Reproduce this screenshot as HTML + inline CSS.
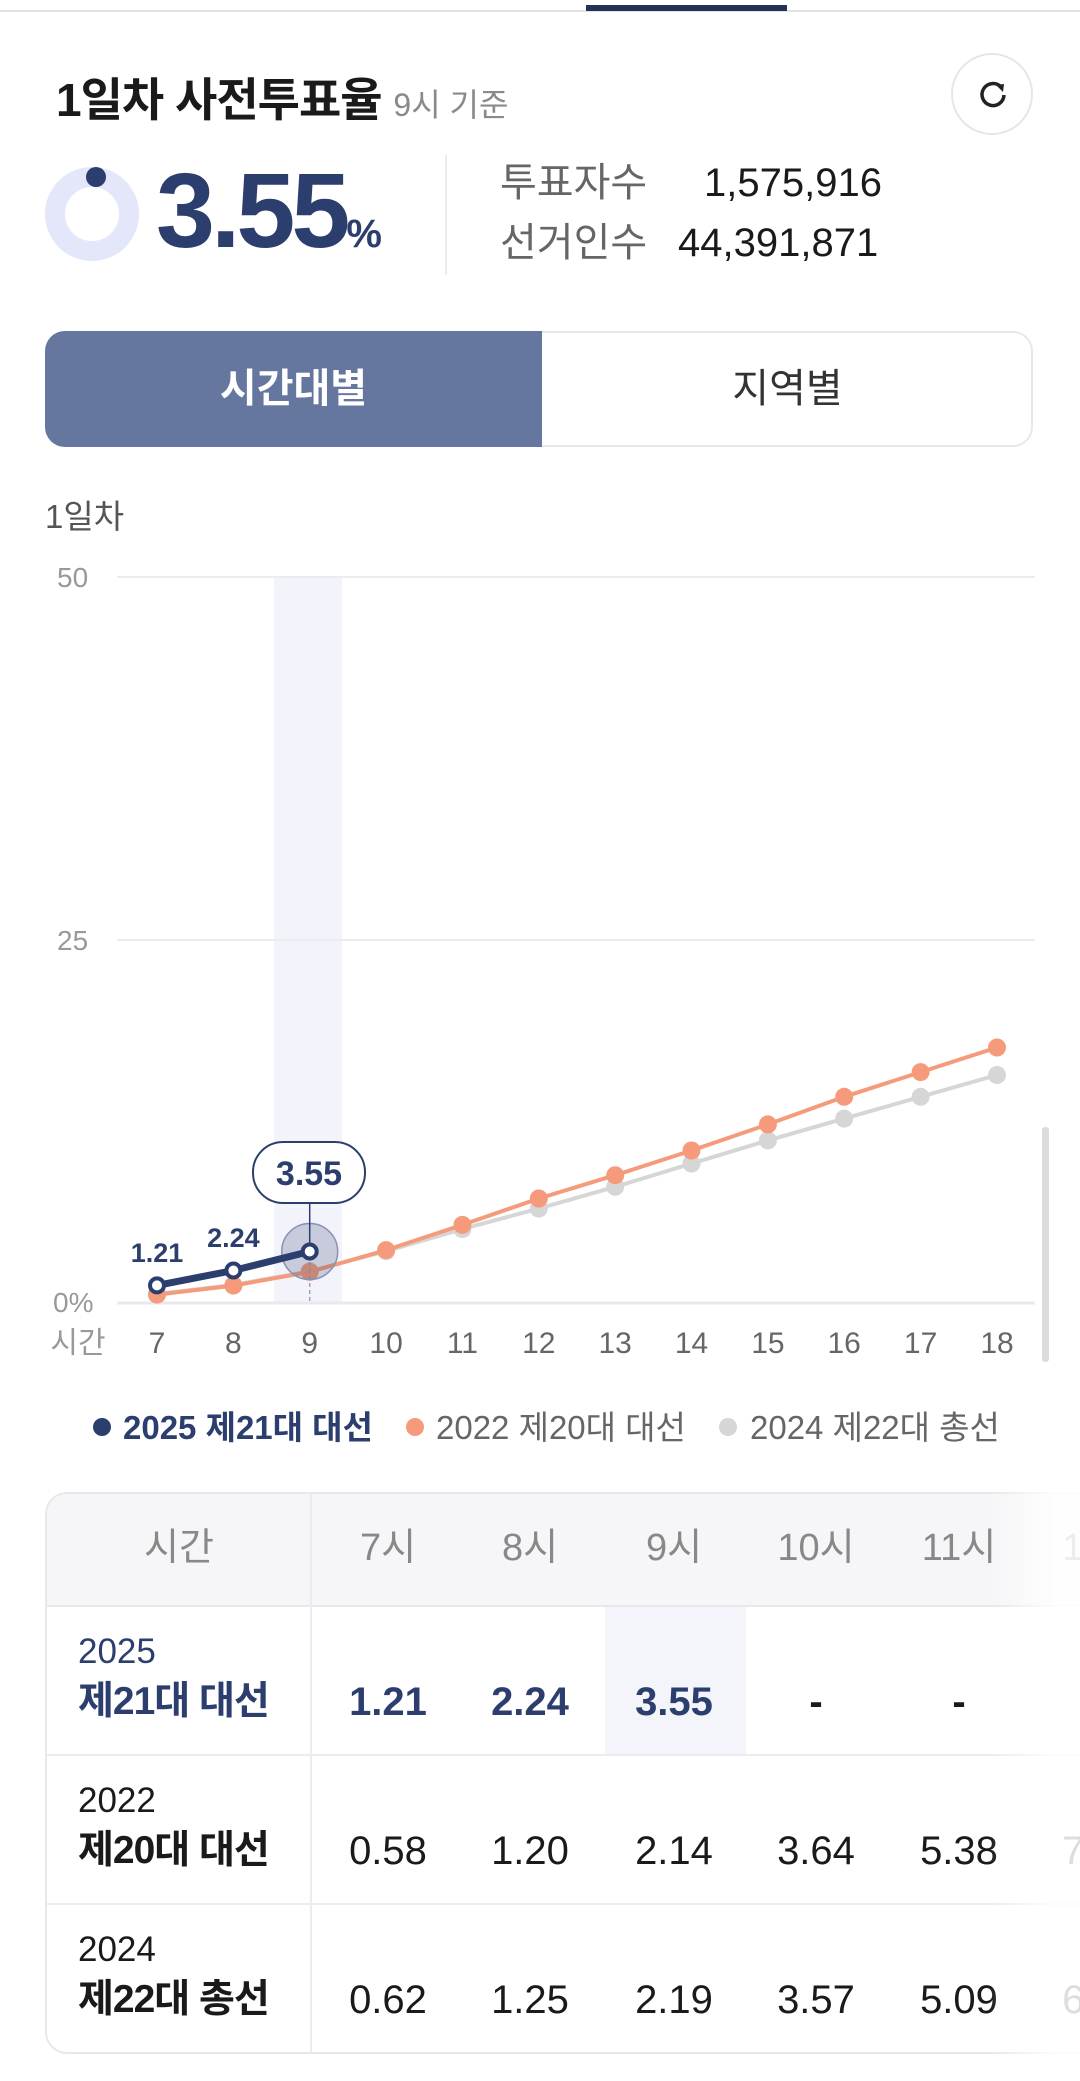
<!DOCTYPE html>
<html><head><meta charset="utf-8"><style>
html,body{margin:0;padding:0;background:#fff;}
body{width:1080px;height:2081px;position:relative;overflow:hidden;font-family:"Liberation Sans","Noto Sans CJK KR",sans-serif;}
.a{position:absolute;white-space:nowrap;}
</style></head><body>
<div class="a" style="left:0;top:0;width:1080px;height:10px;background:#fff;border-bottom:2px solid #e2e4ea;"></div>
<div class="a" style="left:586px;top:5px;width:201px;height:6px;background:#233255;"></div>

<div class="a" style="left:56px;top:72px;font-size:46px;font-weight:bold;color:#1a1a1a;line-height:56px;letter-spacing:-1px;">1일차 사전투표율 <span style="font-size:32px;font-weight:normal;color:#8a8a8a;letter-spacing:0;">9시 기준</span></div>
<div class="a" style="left:951px;top:53px;width:82px;height:82px;border:2px solid #e6e6e6;border-radius:50%;box-sizing:border-box;"></div>
<svg class="a" style="left:972px;top:74px" width="42" height="42" viewBox="0 0 42 42"><path d="M29 13 A11 11 0 1 0 32 21" fill="none" stroke="#222" stroke-width="3.5"/><path d="M24 11 L32 10 L31 18 Z" fill="#222"/></svg>

<svg class="a" style="left:40px;top:162px" width="104" height="104"><circle cx="52" cy="52" r="37" fill="none" stroke="#e4e6fa" stroke-width="20"/><circle cx="56" cy="15" r="10" fill="#2c3e6e"/></svg>
<div class="a" style="left:156px;top:158px;font-size:106px;font-weight:bold;color:#2c3e6e;line-height:106px;letter-spacing:-4px;">3.55<span style="font-size:40px;letter-spacing:0;">%</span></div>
<div class="a" style="left:445px;top:155px;width:2px;height:120px;background:#ececec;"></div>
<div class="a" style="left:500px;top:160px;font-size:40px;color:#666;line-height:46px;">투표자수</div>
<div class="a" style="left:704px;top:160px;font-size:40px;color:#1a1a1a;line-height:46px;">1,575,916</div>
<div class="a" style="left:500px;top:220px;font-size:40px;color:#666;line-height:46px;">선거인수</div>
<div class="a" style="left:678px;top:220px;font-size:40px;color:#1a1a1a;line-height:46px;">44,391,871</div>

<div class="a" style="left:45px;top:331px;width:988px;height:116px;border:2px solid #e8e8ec;border-radius:20px;box-sizing:border-box;"></div>
<div class="a" style="left:45px;top:331px;width:497px;height:116px;background:#66779f;border-radius:20px 0 0 20px;color:#fff;font-size:40px;font-weight:bold;text-align:center;line-height:116px;">시간대별</div>
<div class="a" style="left:542px;top:331px;width:491px;height:116px;color:#333;font-size:40px;text-align:center;line-height:116px;">지역별</div>

<div class="a" style="left:45px;top:495px;font-size:33px;color:#555;line-height:44px;">1일차</div>

<svg class="a" style="left:0;top:0" width="1080" height="2081" font-family="Liberation Sans, Noto Sans CJK KR, sans-serif">
<rect x="274" y="577" width="68" height="726" fill="#f3f3fb"/>
<line x1="117" y1="577" x2="1035" y2="577" stroke="#ececf0" stroke-width="2"/>
<line x1="117" y1="940" x2="1035" y2="940" stroke="#ececf0" stroke-width="2"/>
<line x1="117" y1="1303" x2="1035" y2="1303" stroke="#e8e8ee" stroke-width="3"/>
<text x="57" y="587" font-size="28" fill="#999">50</text>
<text x="57" y="950" font-size="28" fill="#999">25</text>
<text x="53" y="1312" font-size="28" fill="#999">0%</text>
<rect x="1042" y="1127" width="7" height="235" rx="3" fill="#dcdcdc"/>
<g font-size="30" fill="#666" text-anchor="middle">
<text x="78" y="1353" fill="#999">시간</text>
<text x="157" y="1353">7</text><text x="233.4" y="1353">8</text><text x="309.7" y="1353">9</text><text x="386.1" y="1353">10</text><text x="462.4" y="1353">11</text><text x="538.8" y="1353">12</text><text x="615.2" y="1353">13</text><text x="691.5" y="1353">14</text><text x="767.9" y="1353">15</text><text x="844.2" y="1353">16</text><text x="920.6" y="1353">17</text><text x="997" y="1353">18</text>
</g>
<g fill="#d6d6d6">
<polyline fill="none" stroke="#d6d6d6" stroke-width="4" points="157,1294 233.4,1284.9 309.7,1271.2 386.1,1251.2 462.4,1229.1 538.8,1208.6 615.2,1186.8 691.5,1163.6 767.9,1140.4 844.2,1118.6 920.6,1096.8 997,1075"/>
<circle cx="157" cy="1294" r="9"/><circle cx="233.4" cy="1284.9" r="9"/><circle cx="309.7" cy="1271.2" r="9"/><circle cx="386.1" cy="1251.2" r="9"/><circle cx="462.4" cy="1229.1" r="9"/><circle cx="538.8" cy="1208.6" r="9"/><circle cx="615.2" cy="1186.8" r="9"/><circle cx="691.5" cy="1163.6" r="9"/><circle cx="767.9" cy="1140.4" r="9"/><circle cx="844.2" cy="1118.6" r="9"/><circle cx="920.6" cy="1096.8" r="9"/><circle cx="997" cy="1075" r="9"/>
</g>
<g fill="#f59b7b">
<polyline fill="none" stroke="#f59b7b" stroke-width="4" points="157,1294.6 233.4,1285.6 309.7,1271.9 386.1,1250.1 462.4,1224.9 538.8,1198.5 615.2,1175.2 691.5,1150.5 767.9,1124.4 844.2,1096.8 920.6,1072.1 997,1047.5"/>
<circle cx="157" cy="1294.6" r="9"/><circle cx="233.4" cy="1285.6" r="9"/><circle cx="309.7" cy="1271.9" r="9"/><circle cx="386.1" cy="1250.1" r="9"/><circle cx="462.4" cy="1224.9" r="9"/><circle cx="538.8" cy="1198.5" r="9"/><circle cx="615.2" cy="1175.2" r="9"/><circle cx="691.5" cy="1150.5" r="9"/><circle cx="767.9" cy="1124.4" r="9"/><circle cx="844.2" cy="1096.8" r="9"/><circle cx="920.6" cy="1072.1" r="9"/><circle cx="997" cy="1047.5" r="9"/>
</g>
<line x1="309.7" y1="1262" x2="309.7" y2="1303" stroke="#9aa2c0" stroke-width="1.5" stroke-dasharray="4,3"/>
<circle cx="309.7" cy="1251.5" r="28" fill="#2c3e6e" fill-opacity="0.22" stroke="#8a92b2" stroke-width="1.5"/>
<polyline fill="none" stroke="#2c3e6e" stroke-width="7" points="157,1285.4 233.4,1270.5 309.7,1251.5"/>
<g fill="#fff" stroke="#2c3e6e" stroke-width="4"><circle cx="157" cy="1285.4" r="7"/><circle cx="233.4" cy="1270.5" r="7"/><circle cx="309.7" cy="1251.5" r="7"/></g>
<line x1="309.7" y1="1203" x2="309.7" y2="1243" stroke="#2c3e6e" stroke-width="1.5"/>
<rect x="253" y="1142" width="112" height="61" rx="30" fill="#fff" stroke="#2c3e6e" stroke-width="2"/>
<text x="309" y="1185" font-size="34" font-weight="bold" fill="#2c3e6e" text-anchor="middle">3.55</text>
<text x="157" y="1262" font-size="27" font-weight="bold" fill="#2c3e6e" text-anchor="middle">1.21</text>
<text x="233.4" y="1247" font-size="27" font-weight="bold" fill="#2c3e6e" text-anchor="middle">2.24</text>
<circle cx="102" cy="1427" r="9" fill="#2c3e6e"/>
<text x="123" y="1439" font-size="33" font-weight="bold" fill="#2c3e6e">2025 제21대 대선</text>
<circle cx="415" cy="1427" r="9" fill="#f59b7b"/>
<text x="436" y="1439" font-size="33" fill="#666">2022 제20대 대선</text>
<circle cx="728" cy="1427" r="9" fill="#d6d6d6"/>
<text x="750" y="1439" font-size="33" fill="#666">2024 제22대 총선</text>
</svg>

<div class="a" style="left:0;top:1480px;width:1080px;height:590px;overflow:hidden;">
<div class="a" style="left:45px;top:12px;width:1100px;height:562px;border:2px solid #e8e8ec;border-radius:22px;box-sizing:border-box;overflow:hidden;">
  <div class="a" style="left:0;top:0;width:1100px;height:111px;background:#f6f6f8;border-bottom:2px solid #e8e8ec;"></div>
  <div class="a" style="left:263px;top:0;width:2px;height:562px;background:#ececf0;"></div>
  <div class="a" style="left:0;top:260px;width:1100px;height:2px;background:#ececf0;"></div>
  <div class="a" style="left:0;top:409px;width:1100px;height:2px;background:#ececf0;"></div>
  <div class="a" style="left:558px;top:113px;width:141px;height:147px;background:#f4f4fb;"></div>
</div>
<div class="a" style="left:0;top:12px;width:1080px;height:562px;font-size:40px;color:#1a1a1a;">
  <div class="a" style="left:134px;top:28px;width:90px;text-align:center;color:#888;font-size:38px;line-height:56px;">시간</div>
  <div class="a" style="left:318px;top:28px;width:140px;text-align:center;color:#888;font-size:38px;line-height:56px;">7시</div>
  <div class="a" style="left:460px;top:28px;width:140px;text-align:center;color:#888;font-size:38px;line-height:56px;">8시</div>
  <div class="a" style="left:604px;top:28px;width:140px;text-align:center;color:#888;font-size:38px;line-height:56px;">9시</div>
  <div class="a" style="left:746px;top:28px;width:140px;text-align:center;color:#888;font-size:38px;line-height:56px;">10시</div>
  <div class="a" style="left:889px;top:28px;width:140px;text-align:center;color:#888;font-size:38px;line-height:56px;">11시</div>
  <div class="a" style="left:1031px;top:28px;width:140px;text-align:center;color:#888;font-size:38px;line-height:56px;">12시</div>

  <div class="a" style="left:78px;top:138px;font-size:35px;color:#2c3e6e;line-height:44px;">2025</div>
  <div class="a" style="left:78px;top:185px;font-size:39px;font-weight:bold;color:#2c3e6e;line-height:50px;letter-spacing:-1px;">제21대 대선</div>
  <div class="a" style="left:318px;top:183px;width:140px;text-align:center;font-weight:bold;color:#2c3e6e;line-height:54px;">1.21</div>
  <div class="a" style="left:460px;top:183px;width:140px;text-align:center;font-weight:bold;color:#2c3e6e;line-height:54px;">2.24</div>
  <div class="a" style="left:604px;top:183px;width:140px;text-align:center;font-weight:bold;color:#2c3e6e;line-height:54px;">3.55</div>
  <div class="a" style="left:746px;top:183px;width:140px;text-align:center;font-weight:bold;line-height:54px;">-</div>
  <div class="a" style="left:889px;top:183px;width:140px;text-align:center;font-weight:bold;line-height:54px;">-</div>

  <div class="a" style="left:78px;top:287px;font-size:35px;line-height:44px;">2022</div>
  <div class="a" style="left:78px;top:334px;font-size:39px;font-weight:bold;line-height:50px;letter-spacing:-1px;">제20대 대선</div>
  <div class="a" style="left:318px;top:332px;width:140px;text-align:center;line-height:54px;">0.58</div>
  <div class="a" style="left:460px;top:332px;width:140px;text-align:center;line-height:54px;">1.20</div>
  <div class="a" style="left:604px;top:332px;width:140px;text-align:center;line-height:54px;">2.14</div>
  <div class="a" style="left:746px;top:332px;width:140px;text-align:center;line-height:54px;">3.64</div>
  <div class="a" style="left:889px;top:332px;width:140px;text-align:center;line-height:54px;">5.38</div>
  <div class="a" style="left:1031px;top:332px;width:140px;text-align:center;line-height:54px;">7.20</div>

  <div class="a" style="left:78px;top:436px;font-size:35px;line-height:44px;">2024</div>
  <div class="a" style="left:78px;top:483px;font-size:39px;font-weight:bold;line-height:50px;letter-spacing:-1px;">제22대 총선</div>
  <div class="a" style="left:318px;top:481px;width:140px;text-align:center;line-height:54px;">0.62</div>
  <div class="a" style="left:460px;top:481px;width:140px;text-align:center;line-height:54px;">1.25</div>
  <div class="a" style="left:604px;top:481px;width:140px;text-align:center;line-height:54px;">2.19</div>
  <div class="a" style="left:746px;top:481px;width:140px;text-align:center;line-height:54px;">3.57</div>
  <div class="a" style="left:889px;top:481px;width:140px;text-align:center;line-height:54px;">5.09</div>
  <div class="a" style="left:1031px;top:481px;width:140px;text-align:center;line-height:54px;">6.50</div>
</div>
<div class="a" style="left:990px;top:12px;width:90px;height:562px;background:linear-gradient(to right,rgba(255,255,255,0),rgba(255,255,255,0.85) 70%);"></div>
</div>
</body></html>
